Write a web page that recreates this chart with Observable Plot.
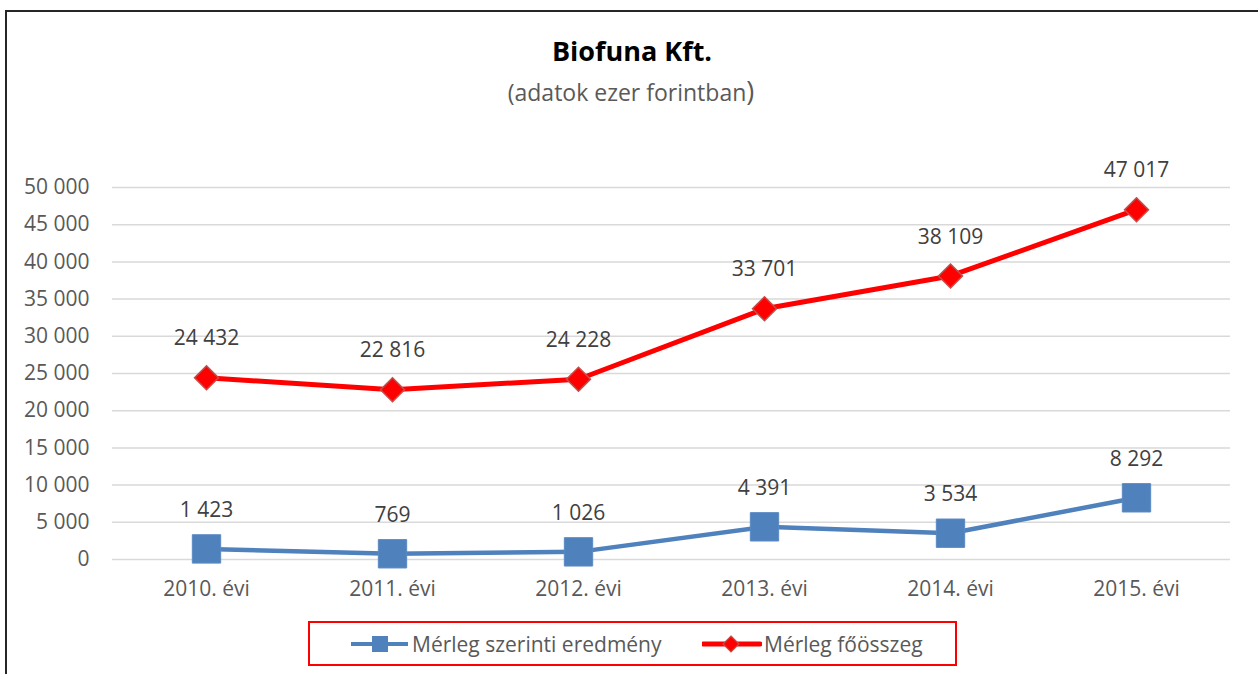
<!DOCTYPE html>
<html>
<head>
<meta charset="utf-8">
<script src="https://cdn.jsdelivr.net/npm/d3@7"></script>
<script src="https://cdn.jsdelivr.net/npm/@observablehq/plot@0.6"></script>
<style>
  html, body { margin: 0; padding: 0; background: #fff; overflow: hidden; }
  #wrap { position: relative; width: 1258px; height: 674px; overflow: hidden; font-family: "Open Sans", sans-serif; }
  #frame { position: absolute; left: 5px; top: 10px; width: 1400px; height: 800px; border: 2px solid #262626; box-sizing: border-box; }
  #title { position: absolute; left: 0; width: 1264px; top: 33px; text-align: center; font-weight: bold; font-size: 27px; color: #000; line-height: 36px; }
  #subtitle { position: absolute; left: 0; width: 1262px; top: 76px; text-align: center; font-size: 23px; color: #595959; line-height: 30px; }
  #subtitle .big { font-size: 27px; }
  #chart { position: absolute; left: 0; top: 150px; }
  #legend { position: absolute; left: 308px; top: 621px; width: 649px; height: 45px; border: 2px solid #ff0000; box-sizing: border-box; }
  .item { position: absolute; top: 0; height: 41px; display: flex; align-items: center; font-size: 21px; color: #595959; white-space: nowrap; }
  .item svg { margin-right: 2px; }
</style>
</head>
<body>
<div id="wrap">
  <div id="frame"></div>
  <div id="title">Biofuna Kft.</div>
  <div id="subtitle">(adatok ezer forintban<span class="big">)</span></div>
  <div id="chart"></div>
  <div id="legend"></div>
</div>
<script>
const years = ["2010. évi", "2011. évi", "2012. évi", "2013. évi", "2014. évi", "2015. évi"];
const eredmeny = [1423, 769, 1026, 4391, 3534, 8292];
const foosszeg = [24432, 22816, 24228, 33701, 38109, 47017];
const yTicks = [0, 5000, 10000, 15000, 20000, 25000, 30000, 35000, 40000, 45000, 50000];
const seriesNames = ["Mérleg szerinti eredmény", "Mérleg főösszeg"];

const blue = "#4f81bd";
const red = "#ff0000";

const locale = d3.formatLocale({decimal: ",", thousands: " ", grouping: [3], currency: ["", ""]});
const fmt = locale.format(",d");

const d1 = years.map((y, i) => ({year: y, value: eredmeny[i]}));
const d2 = years.map((y, i) => ({year: y, value: foosszeg[i]}));

const chart = Plot.plot({
  width: 1258,
  height: 460,
  marginLeft: 112,
  marginRight: 28,
  marginTop: 37,
  marginBottom: 51,
  x: {type: "point", domain: years, padding: 0.5, label: null},
  y: {domain: [0, 50000], label: null},
  style: {fontFamily: "Open Sans", fontSize: "21px", color: "#595959", background: "transparent", overflow: "visible"},
  marks: [
    Plot.gridY(yTicks, {stroke: "#d9d9d9", strokeOpacity: 1, strokeWidth: 1.5}),
    Plot.axisY(yTicks, {tickSize: 0, tickPadding: 23, tickFormat: fmt, fill: "#595959", fontSize: 21, label: null}),
    Plot.axisX({tickSize: 0, tickPadding: 22, fill: "#595959", fontSize: 21, label: null}),
    Plot.line(d1, {x: "year", y: "value", stroke: blue, strokeWidth: 4.5}),
    Plot.dot(d1, {x: "year", y: "value", symbol: "square", r: 16, fill: blue, stroke: "#5b8ac4", strokeWidth: 1}),
    Plot.line(d2, {x: "year", y: "value", stroke: red, strokeWidth: 5}),
    Plot.dot(d2, {x: "year", y: "value", symbol: "diamond2", r: 10.8, fill: red, stroke: "#c0504d", strokeWidth: 1.5}),
    Plot.text(d1, {x: "year", y: "value", text: d => fmt(d.value), dy: -39, fill: "#404040", fontSize: 21}),
    Plot.text(d2, {x: "year", y: "value", text: d => fmt(d.value), dy: -39, fill: "#404040", fontSize: 21})
  ]
});
document.getElementById("chart").appendChild(chart);

// Legend
const legend = document.getElementById("legend");
const items = [
  {name: seriesNames[0], color: blue, left: 40, marker: "square"},
  {name: seriesNames[1], color: red, left: 392, marker: "diamond"}
];
for (const it of items) {
  const div = document.createElement("div");
  div.className = "item";
  div.style.left = it.left + "px";
  const ns = "http://www.w3.org/2000/svg";
  const svg = document.createElementNS(ns, "svg");
  svg.setAttribute("width", 60);
  svg.setAttribute("height", 24);
  const line = document.createElementNS(ns, "line");
  line.setAttribute("x1", 1); line.setAttribute("x2", 58);
  line.setAttribute("y1", 12); line.setAttribute("y2", 12);
  line.setAttribute("stroke", it.color);
  line.setAttribute("stroke-width", it.marker === "square" ? 4 : 5);
  line.setAttribute("stroke-linecap", it.marker === "square" ? "butt" : "round");
  svg.appendChild(line);
  if (it.marker === "square") {
    const r = document.createElementNS(ns, "rect");
    r.setAttribute("x", 22); r.setAttribute("y", 4);
    r.setAttribute("width", 16); r.setAttribute("height", 16);
    r.setAttribute("fill", it.color);
    svg.appendChild(r);
  } else {
    const p = document.createElementNS(ns, "path");
    p.setAttribute("d", "M29,4 L37,12 L29,20 L21,12 Z");
    p.setAttribute("fill", it.color);
    p.setAttribute("stroke", "#c0504d");
    p.setAttribute("stroke-width", 1.2);
    svg.appendChild(p);
  }
  div.appendChild(svg);
  const span = document.createElement("span");
  span.textContent = it.name;
  div.appendChild(span);
  legend.appendChild(div);
}
</script>
</body>
</html>
